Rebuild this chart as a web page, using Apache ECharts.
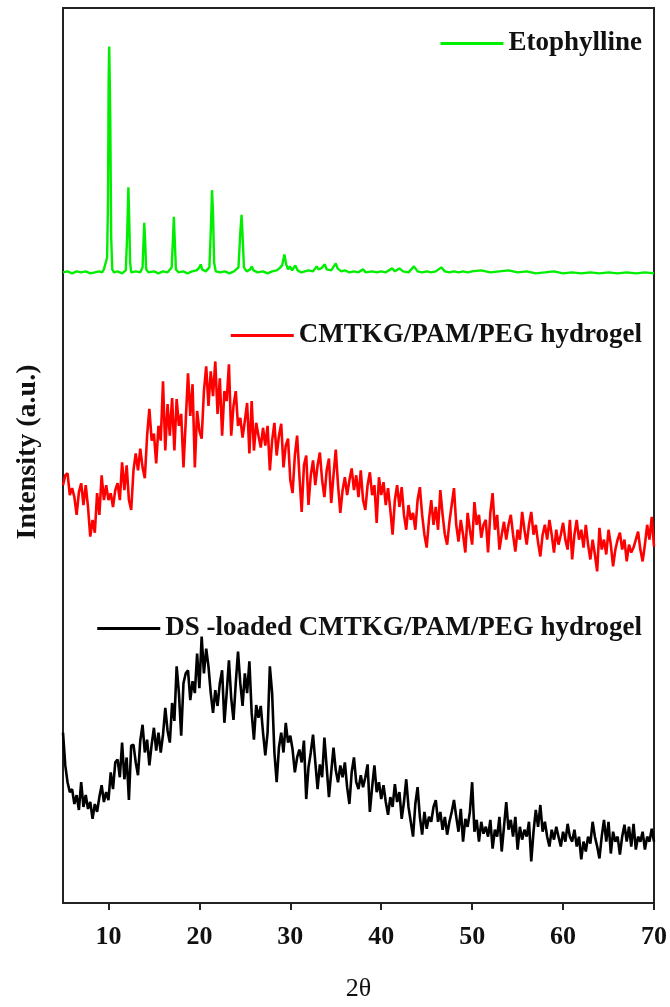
<!DOCTYPE html>
<html>
<head>
<meta charset="utf-8">
<script src="https://cdn.jsdelivr.net/npm/echarts@6/dist/echarts.min.js"></script>
<style>
html,body{margin:0;padding:0;background:#fff;}
#chart{width:670px;height:1007px;}
</style>
</head>
<body>
<div id="chart"></div>
<script>
// Series names
const seriesNames = ['Etophylline', 'CMTKG/PAM/PEG hydrogel', 'DS -loaded CMTKG/PAM/PEG hydrogel'];
// x-axis tick labels (2θ)
const xTicks = [10, 20, 30, 40, 50, 60, 70];
// scan grid for the amorphous patterns: start angle and step (degrees 2θ)
const scanStart = 5;
const scanStep = 0.25;

// Etophylline pattern (already offset, arbitrary units): [2θ, intensity]
const etophylline = [
 [5,725],[5.5,726],[6,724],[6.5,726],[7,725],[7.5,726],[8,724],[8.5,725],[9,726],[9.3,725],[9.5,728],[9.7,726],
 [9.85,740],[9.95,797],[10.02,920],[10.08,953],[10.14,920],[10.2,880],[10.3,760],[10.42,728],[10.6,725],
 [11,726],[11.5,724],[11.9,727],[12.05,760],[12.19,811],[12.28,780],[12.38,735],[12.5,725],
 [13,726],[13.5,725],[13.75,730],[13.87,760],[13.94,775],[14.02,760],[14.15,728],[14.4,725],
 [15,726],[15.5,724],[16,726],[16.5,725],[16.95,730],[17.1,760],[17.19,781],[17.28,760],[17.42,728],[17.7,725],
 [18.2,726],[18.7,724],[19.2,726],[19.7,727],[20.0,730],[20.15,733],[20.3,728],[20.7,726],
 [21.1,730],[21.27,770],[21.39,808],[21.5,785],[21.62,735],[21.8,726],
 [22.3,725],[22.8,726],[23.3,724],[23.8,726],[24.3,730],[24.5,765],[24.64,783],[24.76,760],[24.9,730],
 [25.2,726],[25.6,728],[25.77,731],[25.95,727],[26.4,725],[27,726],[27.5,724],[28,726],[28.5,727],[28.8,729],
 [29.1,732],[29.35,743],[29.55,733],[29.75,728],[29.95,731],[30.2,727],[30.55,732],[30.8,727],[31.2,725],
 [31.6,726],[32,727],[32.5,726],[32.9,731],[33.1,728],[33.4,729],[33.8,733],[34,728],[34.5,727],[35,734],
 [35.2,729],[35.6,726],[36,727],[36.5,725],[37,726],[37.5,725],[38,728],[38.3,725],[39,726],[39.5,725],
 [40,726],[40.5,725],[41.2,729],[41.5,726],[42,729],[42.4,726],[43,725],[43.6,731],[44,726],[44.5,725],
 [45,726],[45.5,725],[46,726],[46.6,730],[47,726],[47.5,725],[48,726],[48.5,725],[49,726],[49.5,725],
 [50,726],[51,727],[52,725],[53,726],[54,727],[55,725],[56,726],[57,724],[58,725],[59,726],[60,724],
 [61,725],[62,724],[63,725],[64,724],[65,725],[66,724],[67,725],[68,724],[69,725],[70,724]
];

// CMTKG/PAM/PEG hydrogel (offset, arbitrary units), one value per scan step from 5° to 70°
const hydrogel = [
 510,520,522,500,507,498,480,503,512,490,510,488,458,475,462,502,480,520,495,510,
 495,502,488,505,512,495,533,505,530,495,485,525,542,525,547,528,517,560,587,555,
 562,532,570,555,615,545,592,560,598,545,597,570,582,528,575,623,580,612,528,585,
 565,557,605,630,590,625,600,635,582,618,560,605,595,632,560,590,605,570,578,558,
 575,593,542,595,545,573,560,548,568,550,570,525,555,573,540,560,572,528,550,557,
 515,502,540,560,520,483,530,540,490,520,535,510,530,543,515,498,525,537,492,520,
 546,510,482,505,518,500,515,527,505,520,498,525,495,485,510,523,500,510,472,518,
 500,513,490,507,485,460,495,510,488,508,480,465,490,475,482,465,495,508,480,460,
 447,475,495,470,488,465,505,480,460,450,473,490,507,470,453,475,460,442,482,465,
 450,493,470,480,457,470,475,442,482,502,465,480,445,460,473,455,470,480,460,443,
 465,455,483,465,450,470,483,460,470,452,438,460,470,455,475,460,442,465,450,460,
 472,455,445,475,435,460,475,455,465,447,470,450,435,455,440,423,467,445,455,440,
 465,450,428,445,455,462,445,455,433,450,442,447,455,463,445,433,450,470,455,478,
 448
];

// DS-loaded CMTKG/PAM/PEG hydrogel (offset, arbitrary units), one value per scan step
const dsLoaded = [
 260,227,210,200,203,188,197,182,210,185,197,183,190,173,188,180,195,207,190,200,
 192,220,203,230,233,215,250,213,235,192,247,248,230,217,252,268,240,253,227,248,
 265,242,260,240,258,285,262,250,290,272,327,300,257,310,320,323,293,312,300,340,
 305,357,320,345,327,300,280,303,287,310,323,270,300,333,295,273,310,342,310,287,
 320,300,332,280,253,288,275,287,260,237,260,327,300,240,210,245,260,240,270,250,
 257,243,220,235,243,230,252,193,225,240,258,230,203,228,215,255,225,195,220,245,
 222,210,227,215,230,205,188,220,235,210,203,217,205,215,228,180,205,227,200,210,
 193,207,190,177,195,185,208,190,200,173,190,213,185,170,155,188,205,175,157,180,
 163,175,170,185,192,170,180,162,175,157,170,180,192,175,160,183,150,173,165,180,
 210,160,172,150,170,158,165,155,172,143,162,155,175,140,165,190,162,172,155,175,
 142,165,152,162,155,170,130,160,182,165,187,160,170,155,145,162,152,165,155,145,
 160,150,168,155,150,162,145,155,132,150,140,155,148,170,155,145,133,155,172,150,
 170,138,160,150,155,137,155,167,150,165,145,168,142,155,150,160,142,155,150,163,
 150
];

const toPairs = arr => arr.map((v, i) => [scanStart + i * scanStep, v]);

const FONT = '"Liberation Serif", "Times New Roman", serif';
const chart = echarts.init(document.getElementById('chart'), null, {renderer: 'canvas'});

const legendBase = {
  orient: 'horizontal', right: 28, padding: 0, icon: 'rect', itemWidth: 63, itemHeight: 3,
  selectedMode: false,
  textStyle: {fontFamily: FONT, fontSize: 27, fontWeight: 'bold', color: '#111'}
};

chart.setOption({
  animation: false,
  backgroundColor: '#fff',
  grid: {left: 63, right: 14, top: 8, bottom: 95, show: true, borderColor: '#222', borderWidth: 2, backgroundColor: 'transparent'},
  legend: [
    Object.assign({}, legendBase, {data: [seriesNames[0]], top: 30}),
    Object.assign({}, legendBase, {data: [seriesNames[1]], top: 322}),
    Object.assign({}, legendBase, {data: [seriesNames[2]], top: 615})
  ],
  xAxis: {
    type: 'value', min: 5, max: 70,
    name: '2θ', nameLocation: 'middle', nameGap: 73,
    nameTextStyle: {fontFamily: FONT, fontSize: 26, color: '#111'},
    axisLine: {show: true, lineStyle: {color: '#222', width: 2}},
    axisTick: {show: true, customValues: xTicks, length: 7, lineStyle: {color: '#222', width: 2}},
    axisLabel: {customValues: xTicks, margin: 21, fontFamily: FONT, fontSize: 26, fontWeight: 'bold', color: '#111'},
    splitLine: {show: false}
  },
  yAxis: {
    type: 'value', min: 88, max: 992,
    axisLine: {show: false}, axisTick: {show: false}, axisLabel: {show: false}, splitLine: {show: false}
  },
  graphic: [{
    type: 'text', x: 28, y: 452, rotation: Math.PI / 2,
    style: {text: 'Intensity (a.u.)', fontFamily: FONT, fontSize: 28, fontWeight: 'bold', fill: '#111',
            textAlign: 'center', textVerticalAlign: 'middle'}
  }],
  series: [
    {name: seriesNames[0], type: 'line', data: etophylline, showSymbol: false, symbol: 'none',
     lineStyle: {color: '#00ee00', width: 2.4}, itemStyle: {color: '#00ee00'}},
    {name: seriesNames[1], type: 'line', data: toPairs(hydrogel), showSymbol: false, symbol: 'none',
     lineStyle: {color: '#ff0000', width: 2.6}, itemStyle: {color: '#ff0000'}},
    {name: seriesNames[2], type: 'line', data: toPairs(dsLoaded), showSymbol: false, symbol: 'none',
     lineStyle: {color: '#000000', width: 2.6}, itemStyle: {color: '#000000'}}
  ]
});
</script>
</body>
</html>
